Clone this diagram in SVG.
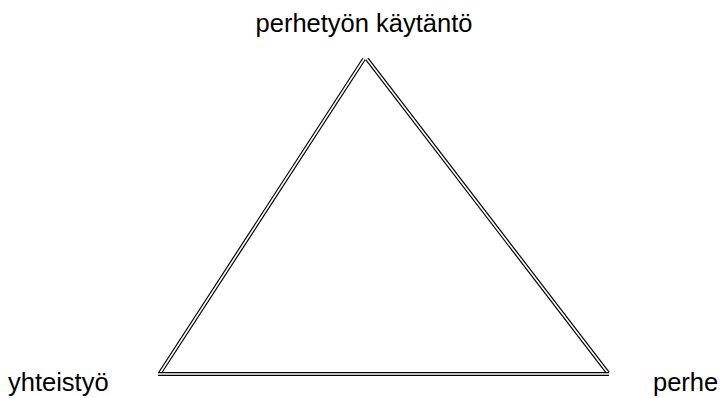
<svg xmlns="http://www.w3.org/2000/svg" width="720" height="398" viewBox="0 0 720 398">
<style>
.o{stroke:#000;stroke-width:4;fill:none}
.i{stroke:#fff;stroke-width:1.6;fill:none}
text{font-family:"Liberation Sans",Arial,sans-serif;font-size:25.5px;fill:#000}
</style>
<rect width="720" height="398" fill="#fff"/>
<g id="connectors">
<line class="o" x1="160" y1="373" x2="364" y2="59"/>
<line class="i" x1="160" y1="373" x2="364" y2="59"/>
<line class="o" x1="367" y1="59" x2="608" y2="373"/>
<line class="i" x1="367" y1="59" x2="608" y2="373"/>
<line class="o" x1="158" y1="374" x2="609" y2="374"/>
<line class="i" x1="158" y1="374" x2="609" y2="374"/>
</g>
<g id="node-top"><text x="364" y="32" text-anchor="middle">perhetyön käytäntö</text></g>
<g id="node-left"><text x="8" y="391">yhteistyö</text></g>
<g id="node-right"><text x="653" y="391">perhe</text></g>
</svg>
